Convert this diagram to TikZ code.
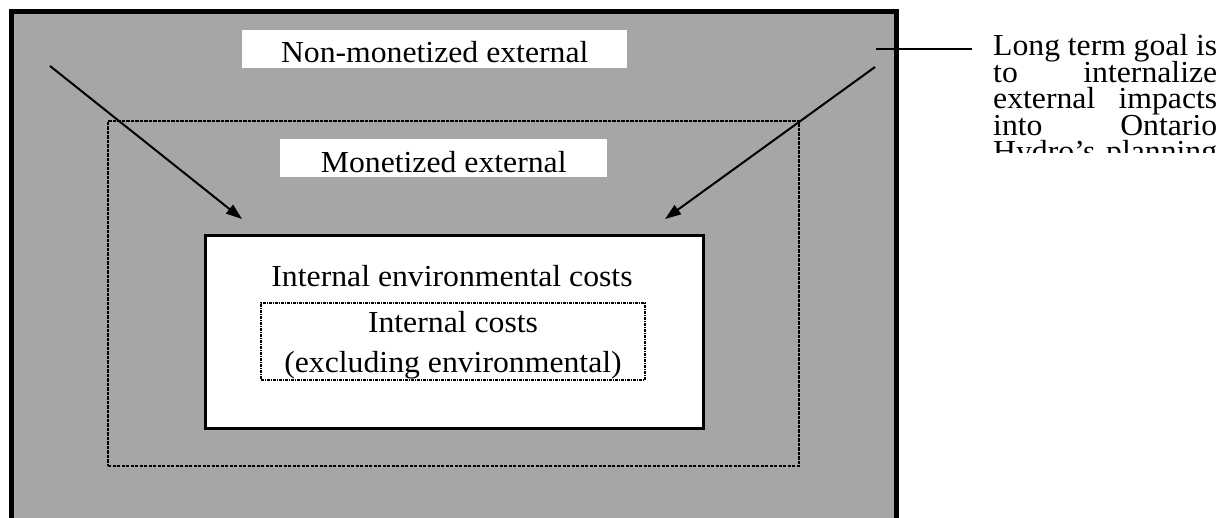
\documentclass[tikz,border=0pt]{standalone}
\usepackage{fontspec}
\setmainfont{Liberation Serif}[FakeStretch=1.04]
\usetikzlibrary{arrows.meta}
\definecolor{fieldgray}{HTML}{A6A6A6}
\begin{document}
\begin{tikzpicture}[x=1pt,y=-1pt,
  lbl/.style={inner sep=0pt, font=\fontsize{30.5}{32}\selectfont, anchor=base},
  tagbox/.style={fill=white, inner sep=0pt, anchor=north west, minimum height=38pt,
                 font=\fontsize{30.5}{32}\selectfont},
  region/.style={inner sep=0pt, outer sep=0pt},
  pointer/.style={line width=2pt, -{Triangle[length=16pt,width=11pt]}},
]
\useasboundingbox (0,0) rectangle (1231,518);
\clip (0,0) rectangle (1231,518);
\fill[white] (0,0) rectangle (1231,518);

% outer frame: all costs (open at the bottom of the page)
\node[region, draw, line width=5pt, fill=fieldgray, minimum width=884.5pt, minimum height=548.5pt]
  (outer) at (453.75,285.75) {};

% monetized external region
\node[region, draw, line width=1.6pt, dash pattern=on 3.2pt off 1.3pt,
      minimum width=691pt, minimum height=345pt] (monet) at (453.5,293.5) {};

% internal environmental costs
\node[region, draw, line width=3pt, fill=white, minimum width=498.5pt, minimum height=192.5pt]
  (envbox) at (454.25,331.75) {};

% internal costs excluding environmental
\node[region, draw, line width=1.4pt, dash pattern=on 3pt off 1pt on 1pt off 1pt,
      minimum width=384pt, minimum height=77pt] (intbox) at (453,341.5) {};

% labels
\node[tagbox, minimum width=385pt, text height=32pt, text depth=6pt] (nonmon) at (242,30)
  {Non-monetized external};
\node[tagbox, minimum width=327pt, text height=33pt, text depth=5pt] (mon) at (280,139)
  {Monetized external};
\node[lbl] (envtxt) at (452,287) {Internal environmental costs};
\node[lbl] (inttxt) at (453,333) {Internal costs};
\node[lbl] (exctxt) at (453,372) {(excluding environmental)};

% arrows pointing inward
\coordinate (aL) at (50,66);
\coordinate (tL) at (242,219);
\coordinate (aR) at (875,67);
\coordinate (tR) at (665,219);
\draw[pointer] (aL) -- (tL);
\draw[pointer] (aR) -- (tR);

% side note
\coordinate (p1) at (876,49.5);
\coordinate (p2) at (972,49.5);
\draw[line width=2pt] (p1) -- (p2);
\begin{scope}
\clip (975,0) rectangle (1231,153);
\node[lbl, anchor=base west] (goal) at (993,56) {\vtop{\hsize=224pt
  \baselineskip=26.5pt \lineskiplimit=-40pt \lineskip=0pt
  \hbox to\hsize{Long term goal is}
  \hbox to\hsize{to\hfill internalize}
  \hbox to\hsize{external\hfill impacts}
  \hbox to\hsize{into\hfill Ontario}
  \hbox to\hsize{Hydro’s\hfill planning}}};
\end{scope}
\end{tikzpicture}
\end{document}
